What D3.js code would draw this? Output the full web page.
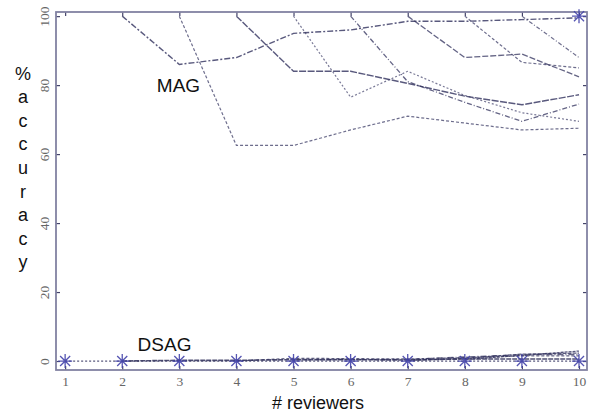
<!DOCTYPE html>
<html><head><meta charset="utf-8">
<script src="https://cdn.jsdelivr.net/npm/d3@7"></script>
<style>body{margin:0;background:#fff}</style>
</head><body>
<svg id="chart" width="594" height="416"></svg>
<script>
// ---- data ----
const reviewers = [1,2,3,4,5,6,7,8,9,10];
const yTicks = [0,20,40,60,80,100];
const magA = [null,100,86,88,95,96,98.5,98.5,99,99.5];
const magB = [null,null,100,62.5,62.5,67,71,69,67,67.5];
const magC = [null,null,null,100,84,84,80.5,76.8,74.3,77.2];
const magD = [null,null,null,null,100,76.5,84,77,72,69.5];
const magE = [null,null,null,null,null,100,81,75,69.5,74.5];
const magF = [null,null,null,null,null,null,100,88,89,82.4];
const magG = [null,null,null,null,null,null,null,100,86.6,85];
const magH = [null,null,null,null,null,null,null,null,100,88];
const dsag1 = [0,0,0,0,0,0,0,0,0,0];
const dsag2 = [null,0,0.2,0.2,0.4,0.4,0.3,0.6,0.6,0.6];
const dsag3 = [null,null,null,0,0.8,0.7,0.6,1.0,1.5,1.5];
const dsag4 = [null,null,null,null,0.3,0.5,0.5,1.2,1.8,1.9];
const dsag5 = [null,null,null,null,null,null,0.2,0.8,2.0,2.3];
const dsag6 = [null,null,null,null,null,null,null,0.5,1.6,2.9];
const dsagStars = [0,0,0,0,0,0,0,0,0,0];
const magStars = [null,null,null,null,null,null,null,null,null,100];
const seriesLabels = ["MAG","DSAG"];
const xTitle = "# reviewers";
const yTitle = "%accuracy";

// ---- styles ----
const magSeries = [
  {v:magA, dash:"6,2,2,2", w:1.4, o:0.8},
  {v:magB, dash:"3,2", w:1.2, o:0.7},
  {v:magC, dash:"7,1.5", w:1.4, o:0.8},
  {v:magD, dash:"2,2", w:1.2, o:0.65},
  {v:magE, dash:"5,2,1,2", w:1.3, o:0.75},
  {v:magF, dash:"6,2", w:1.3, o:0.75},
  {v:magG, dash:"3,2", w:1.2, o:0.7},
  {v:magH, dash:"4,2,1,2", w:1.2, o:0.7}
];
const dsagSeries = [
  {v:dsag1, dash:"2,2", w:1.2, o:0.8},
  {v:dsag2, dash:"5,1", w:1.6, o:0.85},
  {v:dsag3, dash:"3,2", w:1.2, o:0.75},
  {v:dsag4, dash:"6,2,1,2", w:1.2, o:0.75},
  {v:dsag5, dash:"4,1", w:1.3, o:0.8},
  {v:dsag6, dash:"3,1", w:1.3, o:0.8}
];

const svg = d3.select("#chart");
const defs = svg.append("defs");
defs.append("filter").attr("id","soft").attr("x","-5%").attr("y","-5%").attr("width","110%").attr("height","110%")
  .append("feGaussianBlur").attr("stdDeviation",0.45);

const x = d3.scaleLinear().domain([0.84,10.14]).range([56,587]);
const y = d3.scaleLinear().domain([-2.6,101.2]).range([370,12]);
const [x0,x1] = x.range(), [y1,y0] = y.range();

const frameColor = "#8282a2";
const lineColor = "#30305c";

// axes with inward ticks
const tickFont = "'Liberation Serif', 'DejaVu Serif', serif";
const gx = svg.append("g").attr("transform",`translate(0,${y1})`)
  .call(d3.axisBottom(x).tickValues(reviewers).tickSizeInner(-4).tickSizeOuter(0).tickPadding(6));
const gxt = svg.append("g").attr("transform",`translate(0,${y0})`)
  .call(d3.axisTop(x).tickValues(reviewers).tickSizeInner(-4).tickSizeOuter(0).tickFormat(""));
const gy = svg.append("g").attr("transform",`translate(${x0},0)`)
  .call(d3.axisLeft(y).tickValues(yTicks).tickSizeInner(-4).tickSizeOuter(0).tickFormat(d3.format("d")));
const gyr = svg.append("g").attr("transform",`translate(${x1},0)`)
  .call(d3.axisRight(y).tickValues(yTicks).tickSizeInner(-4).tickSizeOuter(0).tickFormat(""));
[gx,gxt,gy,gyr].forEach(g=>{
  g.select(".domain").remove();
  g.selectAll(".tick line").attr("stroke","#44446a").attr("stroke-width",1.2);
  g.selectAll("text").attr("fill","#666").style("font-family",tickFont).style("font-size","13.5px");
});
gy.selectAll(".tick text")
  .attr("x",0).attr("dy",0).attr("text-anchor","middle")
  .attr("transform","translate(-7,0) rotate(-90)");

// frame
svg.append("rect").attr("x",x0).attr("y",y0).attr("width",x1-x0).attr("height",y1-y0)
  .attr("fill","none").attr("stroke",frameColor).attr("stroke-width",1.8);

// lines
const line = d3.line().defined(d=>d.v!=null).x(d=>x(d.x)).y(d=>y(d.v));
const data = g => reviewers.map((r,i)=>({x:r, v:g.v[i]}));
const plot = svg.append("g").attr("filter","url(#soft)");
plot.selectAll("path.mag").data(magSeries).join("path").attr("class","mag")
  .attr("d",s=>line(data(s))).attr("fill","none").attr("stroke",lineColor)
  .attr("stroke-width",s=>s.w).attr("stroke-dasharray",s=>s.dash).attr("stroke-opacity",s=>s.o);
plot.selectAll("path.dsag").data(dsagSeries).join("path").attr("class","dsag")
  .attr("d",s=>line(data(s))).attr("fill","none").attr("stroke",lineColor)
  .attr("stroke-width",s=>s.w).attr("stroke-dasharray",s=>s.dash).attr("stroke-opacity",s=>s.o);

// star markers (MATLAB-like '*')
const asterisk = {draw(ctx,size){const r=Math.sqrt(size)/2,d=r*0.72;
  ctx.moveTo(-r,0);ctx.lineTo(r,0);ctx.moveTo(0,-r);ctx.lineTo(0,r);
  ctx.moveTo(-d,-d);ctx.lineTo(d,d);ctx.moveTo(-d,d);ctx.lineTo(d,-d);}};
const sym = d3.symbol().type(asterisk).size(196);
const starPts = reviewers.map((r,i)=>({x:r,v:dsagStars[i]}))
  .concat(reviewers.map((r,i)=>({x:r,v:magStars[i]})))
  .filter(d=>d.v!=null);
plot.selectAll("path.star").data(starPts).join("path").attr("class","star")
  .attr("transform",d=>`translate(${x(d.x)},${y(d.v)})`)
  .attr("d",sym).attr("fill","none").attr("stroke","#4343aa").attr("stroke-width",1.3).attr("stroke-opacity",0.9);

// texts
const sans = "'Liberation Sans', Arial, sans-serif";
svg.append("text").attr("x",178.5).attr("y",92).attr("text-anchor","middle")
  .style("font-family",sans).style("font-size","19px").attr("fill","#111").text(seriesLabels[0]);
svg.append("text").attr("x",164.5).attr("y",351).attr("text-anchor","middle")
  .style("font-family",sans).style("font-size","19px").attr("fill","#111").text(seriesLabels[1]);
svg.append("text").attr("x",318).attr("y",409).attr("text-anchor","middle")
  .style("font-family",sans).style("font-size","18px").attr("fill","#111").text(xTitle);
svg.append("g").selectAll("text").data(Array.from(yTitle)).join("text")
  .attr("x",23).attr("y",(d,i)=>79.5+i*23.6).attr("text-anchor","middle")
  .style("font-family",sans).style("font-size","18px").attr("fill","#111").text(d=>d);
</script>
</body></html>
